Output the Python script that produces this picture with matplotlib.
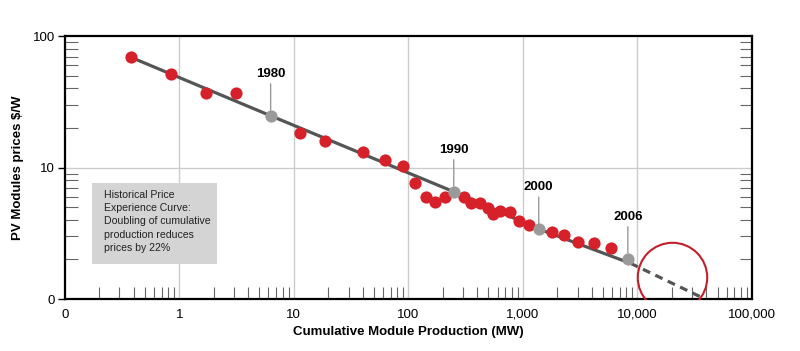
import matplotlib
matplotlib.use("Agg")
import matplotlib.pyplot as plt
from matplotlib.patches import Rectangle
from matplotlib.ticker import FixedLocator, FixedFormatter, NullFormatter

# Red data points (cumulative MW, $/W)
prod_mw = [0.38, 0.85, 1.70, 3.10, 11.4, 18.8, 40.2, 63.0, 89.9, 113.5, 141.6,
           169.8, 209, 308, 353, 426, 493, 549, 636, 767, 926, 1133,
           1799, 2274, 3055, 4210, 5890]
price = [68.9, 51.2, 37.0, 37.0, 18.3, 16.0, 13.1, 11.5, 10.3, 7.66, 6.0,
         5.47, 6.0, 5.93, 5.34, 5.40, 4.92, 4.43, 4.67, 4.59, 3.92, 3.67,
         3.25, 3.07, 2.71, 2.65, 2.43]

# Gray year markers
years = ["1980", "1990", "2000", "2006"]
year_mw = [6.27, 249, 1374, 8240]
year_price = [24.8, 6.55, 3.41, 2.03]

# Experience curve (solid) and projection (dashed)
curve_mw = [0.38, 6.27, 249, 1374, 8700]
curve_price = [68.9, 24.8, 6.55, 3.41, 1.87]
proj_mw = [8700, 35500]
proj_price = [1.87, 1.04]

# Highlight circle
circle_mw = [20000]
circle_price = [1.48]

x_ticks = [0.1, 1, 10, 100, 1000, 10000, 100000]
x_labels = ["0", "1", "10", "100", "1,000", "10,000", "100,000"]
y_ticks = [1, 10, 100]
y_labels = ["0", "10", "100"]

plt.rcParams["font.family"] = ["Liberation Sans", "DejaVu Sans"]

fig = plt.figure(figsize=(8, 3.51), dpi=100)
ax = fig.add_axes([0.081, 0.148, 0.859, 0.749])
ax.set_xscale("log")
ax.set_yscale("log")
ax.set_xlim(0.1, 100000)
ax.set_ylim(1, 100)

# grid
for gx in x_ticks[1:-1]:
    ax.axvline(gx, color="#cccccc", lw=1, zorder=0)
ax.axhline(10, color="#cccccc", lw=1, zorder=0)

# curve
ax.plot(curve_mw, curve_price, color="#555555", lw=2.3, zorder=2,
        solid_capstyle="butt")
ax.plot(proj_mw, proj_price, color="#555555", lw=2.3, dashes=[2.5, 1.8],
        zorder=2)

ax.plot(prod_mw, price, "o", color="#d7212a", ms=8.8, mec="none", zorder=3)
ax.plot(year_mw, year_price, "o", color="#9a9a9a", ms=8.8, mec="none", zorder=3)

for yr, xm, yp in zip(years, year_mw, year_price):
    ax.annotate(yr, xy=(xm, yp), xytext=(0, 26), textcoords="offset points",
                ha="center", va="bottom", fontsize=9.5, fontweight="bold",
                arrowprops=dict(arrowstyle="-", color="#999999", lw=1,
                                shrinkA=1, shrinkB=4))

ax.plot(circle_mw, circle_price, "o", ms=50, mfc="none", mec="#c0202a",
        mew=1.5, zorder=4)

# text box
ax.add_patch(Rectangle((0.039, 0.133), 0.182, 0.308, transform=ax.transAxes,
                       fc="#d4d4d4", ec="none", zorder=1))
ax.text(0.057, 0.415,
        "Historical Price\nExperience Curve:\nDoubling of cumulative\n"
        "production reduces\nprices by 22%",
        transform=ax.transAxes, ha="left", va="top", fontsize=7.6,
        color="#222222", linespacing=1.4, zorder=2)

# axes styling
for s in ax.spines.values():
    s.set_linewidth(1.6)
    s.set_color("black")

ax.xaxis.set_major_locator(FixedLocator(x_ticks))
ax.xaxis.set_major_formatter(FixedFormatter(x_labels))
ax.xaxis.set_minor_formatter(NullFormatter())
ax.yaxis.set_major_locator(FixedLocator(y_ticks))
ax.yaxis.set_major_formatter(FixedFormatter(y_labels))
ax.yaxis.set_minor_formatter(NullFormatter())

ax.tick_params(axis="x", which="major", length=0, pad=7, labelsize=9.5)
ax.tick_params(axis="x", which="minor", direction="in", length=9, width=0.8,
               color="#666666")
ax.tick_params(axis="y", which="major", direction="out", length=5, width=1,
               labelsize=9.5, pad=2)
ax.tick_params(axis="y", which="minor", direction="in", length=9, width=0.8,
               color="#666666", left=True, right=True)

ax.set_xlabel("Cumulative Module Production (MW)", fontsize=9.5,
              fontweight="bold", labelpad=4)
ax.set_ylabel("PV Modules prices $/W", fontsize=9.5, fontweight="bold",
              labelpad=6)

fig.savefig("out.png", dpi=100)
